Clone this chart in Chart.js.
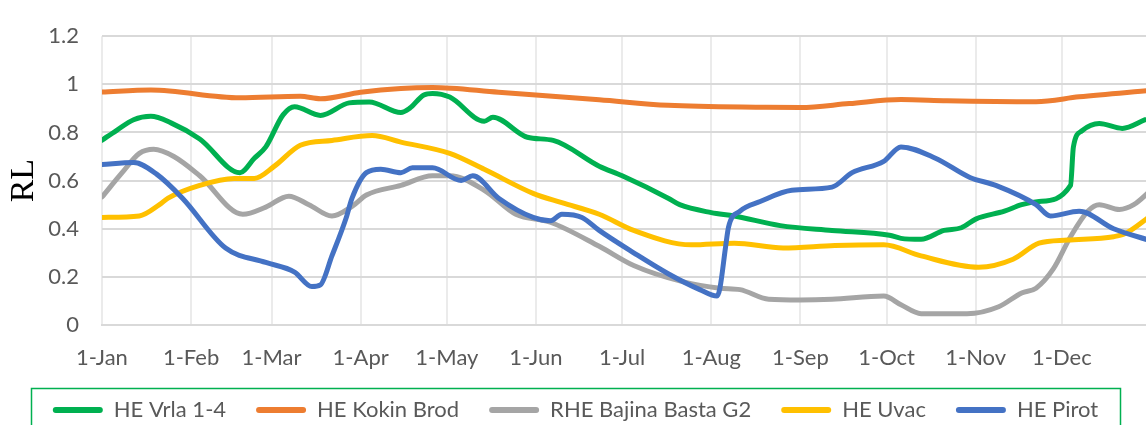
<!DOCTYPE html>
<html>
<head>
<meta charset="utf-8">
<script src="https://cdn.jsdelivr.net/npm/chart.js@4/dist/chart.umd.min.js"></script>
<style>
html, body { margin: 0; padding: 0; background: #fff; overflow: hidden; }
#wrap { position: relative; width: 1160px; height: 431px; }
</style>
</head>
<body>
<div id="wrap"><canvas id="rlChart"></canvas></div>
<script>
// x = day of year (0 = 1 Jan), y = RL
var monthStarts = [0, 31, 59, 90, 120, 151, 181, 212, 243, 273, 304, 334];
var monthLabels = ['1-Jan', '1-Feb', '1-Mar', '1-Apr', '1-May', '1-Jun', '1-Jul', '1-Aug', '1-Sep', '1-Oct', '1-Nov', '1-Dec'];

var vrlaDays = [0, 5, 11, 17, 24, 34, 48, 53, 57, 63, 67, 76, 86, 93, 104, 107, 112, 115, 121, 133, 136, 148, 157, 173, 181, 197, 201, 212, 220, 236, 254, 274, 278, 285, 293, 299, 304, 314, 320, 326, 337, 338, 341, 347, 355, 363];
var vrlaRL = [0.768, 0.808, 0.853, 0.867, 0.84, 0.773, 0.633, 0.693, 0.74, 0.873, 0.907, 0.871, 0.923, 0.927, 0.883, 0.9, 0.956, 0.962, 0.947, 0.847, 0.863, 0.78, 0.767, 0.66, 0.62, 0.527, 0.5, 0.467, 0.453, 0.413, 0.393, 0.373, 0.36, 0.356, 0.393, 0.404, 0.44, 0.473, 0.5, 0.513, 0.58, 0.74, 0.807, 0.837, 0.817, 0.853];

var kokinDays = [0, 17, 48, 69, 76, 90, 104, 115, 138, 173, 197, 231, 243, 260, 278, 294, 325, 340, 365];
var kokinRL = [0.968, 0.976, 0.944, 0.95, 0.94, 0.967, 0.983, 0.987, 0.967, 0.936, 0.913, 0.905, 0.904, 0.92, 0.937, 0.932, 0.928, 0.948, 0.975];

var bajinaDays = [0, 7, 13, 18, 25, 34, 49, 57, 65, 72, 80, 87, 92, 104, 115, 121, 133, 144, 156, 173, 185, 202, 215, 222, 232, 243, 254, 272, 278, 285, 301, 312, 320, 325, 331, 337, 343, 347, 354, 359, 365];
var bajinaRL = [0.532, 0.633, 0.713, 0.73, 0.7, 0.62, 0.46, 0.49, 0.535, 0.5, 0.453, 0.493, 0.54, 0.58, 0.62, 0.62, 0.56, 0.46, 0.427, 0.327, 0.247, 0.18, 0.153, 0.147, 0.107, 0.104, 0.107, 0.12, 0.084, 0.047, 0.047, 0.076, 0.133, 0.153, 0.233, 0.367, 0.473, 0.5, 0.48, 0.5, 0.56];

var uvacDays = [0, 13, 20, 23, 34, 46, 53, 60, 69, 80, 94, 104, 121, 133, 150, 160, 173, 185, 205, 220, 237, 255, 272, 285, 305, 317, 326, 336, 352, 356, 365];
var uvacRL = [0.447, 0.453, 0.5, 0.527, 0.58, 0.609, 0.609, 0.66, 0.747, 0.767, 0.787, 0.76, 0.713, 0.647, 0.547, 0.508, 0.46, 0.393, 0.333, 0.34, 0.32, 0.33, 0.333, 0.287, 0.24, 0.273, 0.34, 0.353, 0.367, 0.38, 0.455];

var pirotDays = [0, 11, 19, 28, 43, 57, 67, 73, 76, 80, 85, 87, 92, 97, 104, 108, 115, 125, 129, 138, 150, 156, 160, 167, 173, 185, 197, 208, 214, 215, 217, 218, 222, 229, 240, 254, 261, 272, 278, 290, 302, 311, 325, 330, 340, 352, 365];
var pirotRL = [0.667, 0.675, 0.627, 0.527, 0.32, 0.26, 0.22, 0.16, 0.167, 0.287, 0.447, 0.527, 0.633, 0.647, 0.633, 0.653, 0.653, 0.6, 0.62, 0.527, 0.447, 0.433, 0.46, 0.447, 0.393, 0.3, 0.213, 0.147, 0.12, 0.153, 0.327, 0.407, 0.473, 0.513, 0.56, 0.573, 0.633, 0.68, 0.74, 0.693, 0.613, 0.58, 0.5, 0.453, 0.473, 0.4, 0.35];

function toPoints(days, vals) {
	return days.map(function (d, i) {
		return { x: d, y: vals[i] };
	});
}

function series(label, days, vals, color, order) {
	return {
		label: label,
		data: toPoints(days, vals),
		borderColor: color,
		backgroundColor: color,
		borderWidth: 5,
		borderCapStyle: 'round',
		borderJoinStyle: 'round',
		pointRadius: 0,
		cubicInterpolationMode: 'monotone',
		order: order
	};
}

// green frame round the legend, as in the Excel original
var legendFrame = {
	id: 'legendFrame',
	afterDraw: function (chart) {
		var ctx = chart.ctx;
		ctx.save();
		ctx.strokeStyle = '#00B050';
		ctx.lineWidth = 1.5;
		ctx.strokeRect(31.5, 388.5, 1089, 70);
		ctx.restore();
	}
};

Chart.defaults.font.family = 'Lato';
Chart.defaults.font.size = 22;
Chart.defaults.color = '#595959';

var ctx = document.getElementById('rlChart').getContext('2d');
var myChart = new Chart(ctx, {
	type: 'line',
	data: {
		datasets: [
			series('HE Vrla 1-4', vrlaDays, vrlaRL, '#00B050', 4),
			series('HE Kokin Brod', kokinDays, kokinRL, '#ED7D31', 3),
			series('RHE Bajina Basta G2', bajinaDays, bajinaRL, '#A5A5A5', 2),
			series('HE Uvac', uvacDays, uvacRL, '#FFC000', 1),
			series('HE Pirot', pirotDays, pirotRL, '#4472C4', 0)
		]
	},
	options: {
		responsive: true,
		maintainAspectRatio: false,
		animation: false,
		layout: {
			padding: { top: 25, right: 9, left: 0, bottom: 0 }
		},
		scales: {
			x: {
				type: 'linear',
				min: 0,
				max: 365,
				clip: false,
				afterBuildTicks: function (scale) {
					scale.ticks = monthStarts.map(function (d) { return { value: d }; });
				},
				afterFit: function (scale) {
					var lg = scale.chart.legend;
					scale.height = 431 - 325 - (lg ? lg.height : 42);
				},
				ticks: {
					padding: 20,
					maxRotation: 0,
					autoSkip: false,
					callback: function (value, index) {
						return monthLabels[index];
					}
				},
				grid: {
					color: '#ebebeb',
					lineWidth: 2,
					drawTicks: false
				},
				border: {
					color: '#d9d9d9',
					width: 2
				}
			},
			y: {
				min: 0,
				max: 1.2,
				afterFit: function (scale) {
					scale.width = 102;
				},
				ticks: {
					stepSize: 0.2,
					padding: 23,
					callback: function (value) {
						return String(Math.round(value * 10) / 10);
					}
				},
				grid: {
					color: '#d9d9d9',
					lineWidth: 2,
					drawTicks: false
				},
				border: {
					display: false
				},
				title: {
					display: true,
					text: 'RL',
					color: '#000000',
					font: { family: 'Liberation Serif', size: 34 },
					padding: { top: 4, bottom: 0 }
				}
			}
		},
		plugins: {
			legend: {
				position: 'bottom',
				labels: {
					boxWidth: 50,
					boxHeight: 6,
					padding: 30,
					useBorderRadius: true,
					borderRadius: 3,
					color: '#595959',
					font: { size: 22 },
					sort: function (a, b) {
						return a.datasetIndex - b.datasetIndex;
					},
					generateLabels: function (chart) {
						var items = Chart.defaults.plugins.legend.labels.generateLabels(chart);
						items.forEach(function (item) {
							item.lineWidth = 0;
							item.fillStyle = item.strokeStyle;
						});
						return items;
					}
				}
			},
			tooltip: { enabled: false }
		}
	},
	plugins: [legendFrame]
});
</script>
</body>
</html>
